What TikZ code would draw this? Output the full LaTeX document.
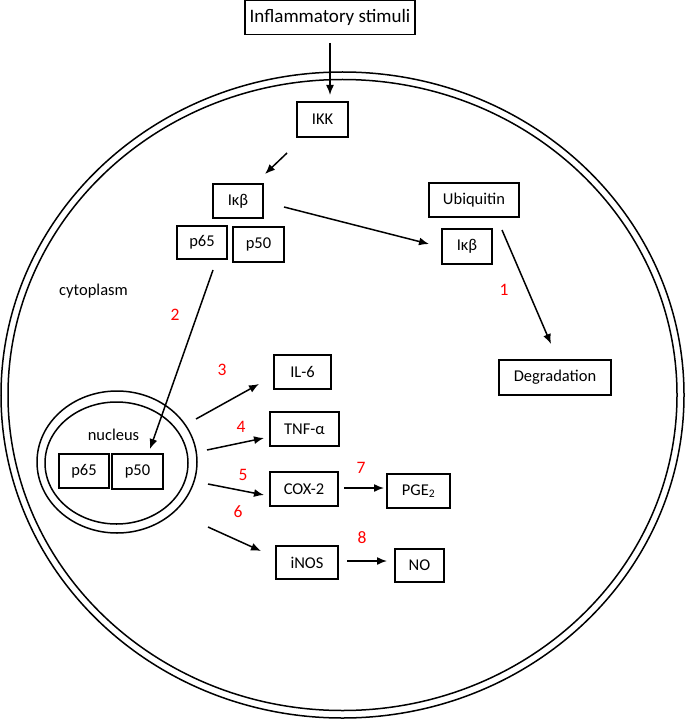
\documentclass[tikz,border=0pt]{standalone}
\usepackage{fontspec}
\setmainfont{Carlito}
\usetikzlibrary{arrows.meta}
\begin{document}
\begin{tikzpicture}[x=1pt,y=-1pt,
  box/.style={draw,line width=1.2pt,minimum width=#1,inner sep=0pt,font=\fontsize{16.5}{18}\selectfont},
  box/.default=50pt,
  lbl/.style={inner sep=0pt,font=\fontsize{16.5}{18}\selectfont},
  num/.style={inner sep=0pt,text=red,font=\fontsize{17.5}{18}\selectfont},
  arr/.style={line width=1.5pt,-{Latex[length=10pt,width=8pt]}},
  memb/.style={line width=1.5pt}]
\useasboundingbox (0,0) rectangle (685,719);
% cell membrane
\draw[memb] (342.5,395) ellipse [x radius=341.5, y radius=323];
\draw[memb] (342.5,395) ellipse [x radius=334.5, y radius=315.5];
% nucleus
\draw[memb] (117,462) ellipse [x radius=80, y radius=71];
\draw[memb] (116.5,463) ellipse [x radius=71.5, y radius=61];
% boxes
\node[box=170pt,minimum height=34pt,font=\fontsize{19}{20}\selectfont] (stim) at (330,17.5) {Inflammatory stimuli};
\node[box=51pt,minimum height=35pt] (ikk) at (322.5,119.5) {IKK};
\node[box=50pt,minimum height=34pt] (ikb1) at (238,201) {Iκβ};
\node[box=50pt,minimum height=33pt] (p65a) at (202,242.5) {p65};
\node[box=51pt,minimum height=35pt] (p50a) at (258.5,244.5) {p50};
\node[box=90pt,minimum height=34pt] (ubi) at (474,200) {Ubiquitin};
\node[box=50pt,minimum height=35pt] (ikb2) at (467,246.5) {Iκβ};
\node[box=112pt,minimum height=35pt] (degr) at (555,377.5) {Degradation};
\node[box=57pt,minimum height=34pt] (il6) at (302.5,372) {IL-6};
\node[box=69pt,minimum height=34pt] (tnf) at (304.5,429) {TNF-α};
\node[box=68pt,minimum height=34pt] (cox) at (304,489) {COX-2};
\node[box=63pt,minimum height=34pt] (pge) at (418.5,491) {PGE\textsubscript{2}};
\node[box=62pt,minimum height=33pt] (inos) at (307,562.5) {iNOS};
\node[box=49pt,minimum height=33pt] (no) at (419.5,565.5) {NO};
\node[box=50pt,minimum height=34pt] (np65) at (84,471) {p65};
\node[box=51pt,minimum height=35pt] (np50) at (137.5,471.5) {p50};
% labels
\node[lbl] (cyto) at (93.5,291) {cytoplasm};
\node[lbl] (nuc) at (113.5,435) {nucleus};
\node[num] (n1) at (504,290) {1};
\node[num] (n2) at (175,315) {2};
\node[num] (n3) at (222,370) {3};
\node[num] (n4) at (241,427) {4};
\node[num] (n5) at (243,475) {5};
\node[num] (n6) at (238,512) {6};
\node[num] (n7) at (361,468) {7};
\node[num] (n8) at (362,538) {8};
% arrow end points
\coordinate (a0s) at (330,43);   \coordinate (a0e) at (330,95);
\coordinate (aks) at (287,153);  \coordinate (ake) at (265,174);
\coordinate (ais) at (284,207);  \coordinate (aie) at (429,244);
\coordinate (a1s) at (502,230);  \coordinate (a1e) at (551,344);
\coordinate (a2s) at (213,270);  \coordinate (a2e) at (150,449);
\coordinate (a3s) at (196,419);  \coordinate (a3e) at (259,384);
\coordinate (a4s) at (207,450);  \coordinate (a4e) at (264,438);
\coordinate (a5s) at (208,484);  \coordinate (a5e) at (264,495);
\coordinate (a6s) at (208,527);  \coordinate (a6e) at (261,551);
\coordinate (a7s) at (344,488);  \coordinate (a7e) at (384,488);
\coordinate (a8s) at (347,561);  \coordinate (a8e) at (387,561);
% arrows
\draw[arr] (a0s) -- (a0e);
\draw[arr] (aks) -- (ake);
\draw[arr] (ais) -- (aie);
\draw[arr] (a1s) -- (a1e);
\draw[arr] (a2s) -- (a2e);
\draw[arr] (a3s) -- (a3e);
\draw[arr] (a4s) -- (a4e);
\draw[arr] (a5s) -- (a5e);
\draw[arr] (a6s) -- (a6e);
\draw[arr] (a7s) -- (a7e);
\draw[arr] (a8s) -- (a8e);
\end{tikzpicture}
\end{document}
